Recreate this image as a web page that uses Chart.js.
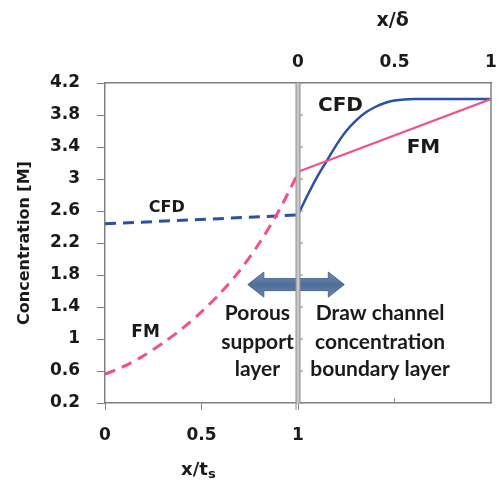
<!DOCTYPE html>
<html>
<head>
<meta charset="utf-8">
<script src="https://cdn.jsdelivr.net/npm/chart.js@4.4.0/dist/chart.umd.min.js"></script>
<style>
  html, body { margin: 0; padding: 0; background: #fff; }
</style>
</head>
<body>
<canvas id="chart" width="499" height="485"></canvas>
<script>
// y axis ticks (concentration, M)
const yTicks = [0.2, 0.6, 1, 1.4, 1.8, 2.2, 2.6, 3, 3.4, 3.8, 4.2];
// bottom axis x/ts and top axis x/delta tick labels
const porousTicks = [0, 0.5, 1];
const layerTicks = [0, 0.5, 1];

// porous support layer (x/ts)
const porousX = [0, 0.1, 0.2, 0.3, 0.4, 0.5, 0.6, 0.7, 0.8, 0.9, 1];
const fmPorous = [0.56, 0.66, 0.79, 0.95, 1.13, 1.34, 1.58, 1.86, 2.2, 2.6, 3.07];
const cfdPorousX = [0, 1];
const cfdPorous = [2.44, 2.55];

// draw channel boundary layer (x/delta)
const layerX = [0, 0.05, 0.1, 0.15, 0.2, 0.25, 0.3, 0.35, 0.4, 0.45, 0.5, 0.6, 0.7, 0.8, 0.9, 1];
const cfdLayer = [2.55, 2.8, 3.03, 3.23, 3.43, 3.6, 3.73, 3.83, 3.9, 3.95, 3.98, 4.0, 4.0, 4.0, 4.0, 4.0];
const fmLayerX = [0, 1];
const fmLayer = [3.09, 4.0];

const blue = '#2a52a3';
const pink = '#f0508c';
const axisGrey = '#808080';
const txt = '#1a1a1a';

const fmt = v => String(Math.round(v * 10) / 10);
const pts = (xs, ys, shift) => xs.map((v, i) => ({ x: v + shift, y: ys[i] }));
const noPad = s => { s.paddingLeft = 0; s.paddingRight = 0; s.paddingTop = 0; s.paddingBottom = 0; };

const extras = {
    id: 'extras',
    afterDatasetsDraw(chart) {
        const { ctx, chartArea: a, scales: { x, y } } = chart;
        ctx.save();

        // double headed arrow
        const xl = x.getPixelForValue(0.74), xr = x.getPixelForValue(1.24), yc = y.getPixelForValue(1.68);
        const bh = 6, hh = 12.5, hl = 16;
        ctx.beginPath();
        ctx.moveTo(xl, yc);
        ctx.lineTo(xl + hl, yc - hh);
        ctx.lineTo(xl + hl, yc - bh);
        ctx.lineTo(xr - hl, yc - bh);
        ctx.lineTo(xr - hl, yc - hh);
        ctx.lineTo(xr, yc);
        ctx.lineTo(xr - hl, yc + hh);
        ctx.lineTo(xr - hl, yc + bh);
        ctx.lineTo(xl + hl, yc + bh);
        ctx.lineTo(xl + hl, yc + hh);
        ctx.closePath();
        const g = ctx.createLinearGradient(0, yc - hh, 0, yc + hh);
        g.addColorStop(0, '#7690b3');
        g.addColorStop(0.5, '#4f6e98');
        g.addColorStop(1, '#6a86ab');
        ctx.fillStyle = g;
        ctx.fill();
        ctx.strokeStyle = '#4a6890';
        ctx.lineWidth = 1;
        ctx.stroke();

        // middle separating line
        const xm = x.getPixelForValue(1);
        ctx.fillStyle = '#c8c8c8';
        ctx.fillRect(xm - 2, a.top, 4, a.bottom - a.top);
        ctx.strokeStyle = '#8c8c8c';
        ctx.lineWidth = 1;
        ctx.beginPath();
        ctx.moveTo(xm - 2, a.top); ctx.lineTo(xm - 2, a.bottom + 7);
        ctx.moveTo(xm + 2, a.top); ctx.lineTo(xm + 2, a.bottom);
        ctx.stroke();
        // inner ticks of the right panel
        ctx.beginPath();
        yTicks.forEach(v => {
            const py = y.getPixelForValue(v);
            ctx.moveTo(xm + 2, py); ctx.lineTo(xm + 5, py);
        });
        const xq = x.getPixelForValue(1.5);
        ctx.moveTo(xq, a.bottom); ctx.lineTo(xq, a.bottom - 5);
        ctx.stroke();

        // right border
        ctx.strokeStyle = axisGrey;
        ctx.lineWidth = 1.5;
        ctx.beginPath();
        ctx.moveTo(a.right, a.top); ctx.lineTo(a.right, a.bottom);
        ctx.stroke();

        // labels
        ctx.fillStyle = txt;
        ctx.textAlign = 'center';
        ctx.textBaseline = 'middle';
        const put = (s, vx, vy, font) => {
            ctx.font = font;
            ctx.fillText(s, x.getPixelForValue(vx), y.getPixelForValue(vy));
        };
        put('CFD', 0.32, 2.64, 'bold 16px "DejaVu Sans"');
        put('FM', 0.21, 1.075, 'bold 17px "DejaVu Sans"');
        put('CFD', 1.22, 3.91, 'bold 20px "DejaVu Sans"');
        put('FM', 1.65, 3.39, 'bold 20px "DejaVu Sans"');
        const lab = 'bold 21px Lato';
        put('Porous', 0.79, 1.325, lab);
        put('support', 0.79, 0.96, lab);
        put('layer', 0.79, 0.625, lab);
        put('Draw channel', 1.425, 1.325, lab);
        put('concentration', 1.425, 0.96, lab);
        put('boundary layer', 1.425, 0.625, lab);

        // axis titles
        ctx.font = 'bold 19px "DejaVu Sans"';
        ctx.fillText('x/\u03b4', x.getPixelForValue(1.49), 21);
        const bx = x.getPixelForValue(0.5) - 4, by = 470;
        ctx.font = 'bold 18px "DejaVu Sans"';
        const w = ctx.measureText('x/t').width;
        ctx.textAlign = 'left';
        ctx.fillText('x/t', bx - w / 2 - 3, by);
        ctx.font = 'bold 13px "DejaVu Sans"';
        ctx.fillText('s', bx + w / 2 - 3, by + 5);
        ctx.restore();
    }
};

new Chart(document.getElementById('chart'), {
    type: 'line',
    data: {
        datasets: [
            { label: 'FM porous', data: pts(porousX, fmPorous, 0), borderColor: pink, borderWidth: 3, borderDash: [11, 7], tension: 0.3 },
            { label: 'CFD porous', data: pts(cfdPorousX, cfdPorous, 0), borderColor: blue, borderWidth: 3, borderDash: [11, 7] },
            { label: 'FM layer', data: pts(fmLayerX, fmLayer, 1), borderColor: pink, borderWidth: 2.2 },
            { label: 'CFD layer', data: pts(layerX, cfdLayer, 1), borderColor: blue, borderWidth: 2.5, cubicInterpolationMode: 'monotone' }
        ]
    },
    options: {
        responsive: false,
        animation: false,
        layout: { padding: { right: 8, left: 0, top: 0, bottom: 0 } },
        elements: { point: { radius: 0 } },
        plugins: { legend: { display: false }, tooltip: { enabled: false } },
        scales: {
            x: {
                type: 'linear', position: 'bottom', min: 0, max: 2,
                afterBuildTicks: s => { s.ticks = porousTicks.map(v => ({ value: v })); },
                afterFit: s => { s.height = 82; noPad(s); },
                ticks: { callback: v => fmt(v), color: txt, padding: 15, maxRotation: 0, font: { family: 'DejaVu Sans', size: 17, weight: 'bold' } },
                grid: { drawOnChartArea: false, tickLength: 7, color: axisGrey },
                border: { color: axisGrey, width: 1.5 }
            },
            x2: {
                type: 'linear', position: 'top', min: 0, max: 2,
                afterBuildTicks: s => { s.ticks = layerTicks.map(v => ({ value: v + 1 })); },
                afterFit: s => { s.height = 83; noPad(s); },
                ticks: { callback: v => fmt(v - 1), color: txt, padding: 10, maxRotation: 0, font: { family: 'DejaVu Sans', size: 17, weight: 'bold' } },
                grid: { display: false, drawTicks: false },
                border: { display: true, color: axisGrey, width: 1.5 }
            },
            y: {
                min: 0.2, max: 4.2,
                afterBuildTicks: s => { s.ticks = yTicks.map(v => ({ value: v })); },
                afterFit: s => { s.width = 105; noPad(s); },
                ticks: { callback: v => fmt(v), color: txt, padding: 17, font: { family: 'DejaVu Sans', size: 17, weight: 'bold' } },
                grid: { drawOnChartArea: false, tickLength: 8, color: axisGrey },
                border: { color: axisGrey, width: 1.5 },
                title: { display: true, text: 'Concentration [M]', color: txt, padding: { top: 15 }, font: { family: 'DejaVu Sans', size: 16, weight: 'bold' } }
            }
        }
    },
    plugins: [extras]
});
</script>
</body>
</html>
